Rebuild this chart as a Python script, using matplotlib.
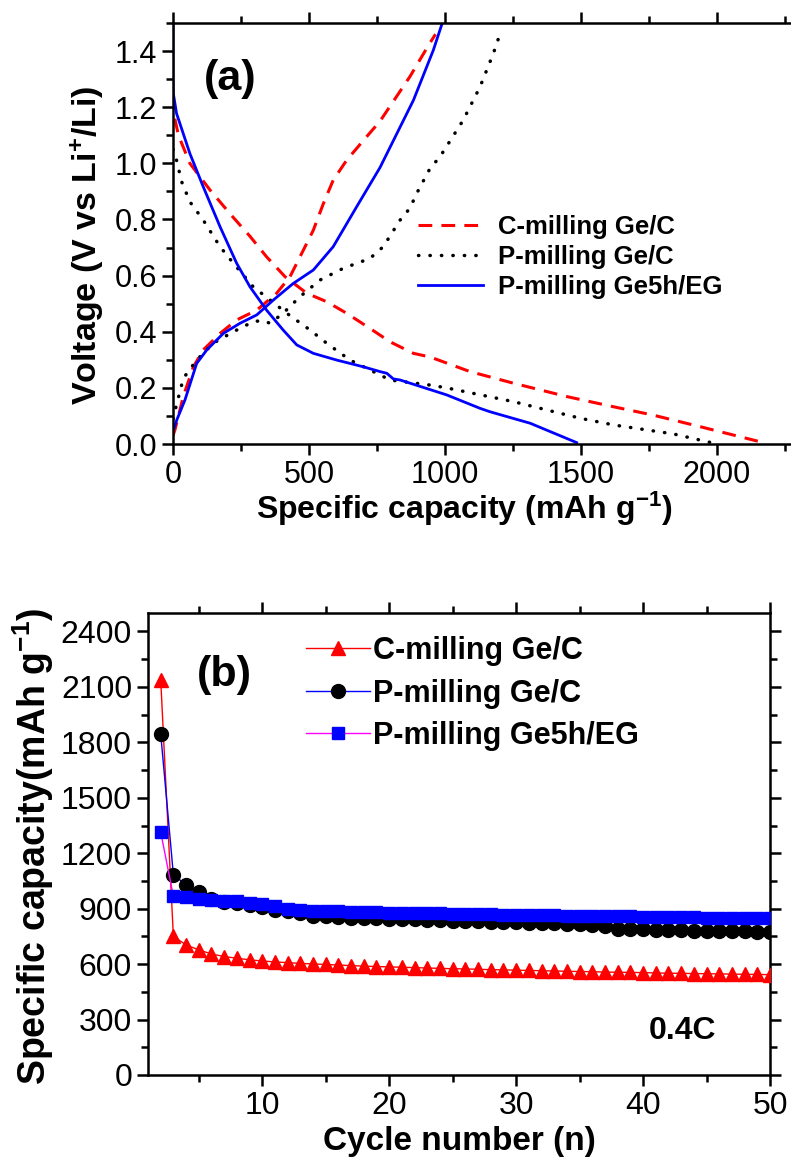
import numpy as np
import matplotlib
matplotlib.use('Agg')
import matplotlib.pyplot as plt
from matplotlib.ticker import MultipleLocator, FormatStrFormatter

plt.rcParams['font.family'] = ['Liberation Sans', 'DejaVu Sans']
plt.rcParams['mathtext.fontset'] = 'custom'
plt.rcParams['mathtext.rm'] = 'Liberation Sans'
plt.rcParams['mathtext.bf'] = 'Liberation Sans:bold'
plt.rcParams['mathtext.default'] = 'bf'

# ---- panel (a): charge / discharge profiles ----
c_dis_cap = [0, 2, 20, 62, 136, 210, 283, 344, 412, 492, 565, 638, 724, 798, 884, 945, 1092, 1250, 1448, 1618, 1765, 1937, 2150]
c_dis_v = [1.24, 1.18, 1.10, 1.0, 0.905, 0.82, 0.74, 0.667, 0.596, 0.537, 0.507, 0.466, 0.412, 0.364, 0.323, 0.31, 0.258, 0.217, 0.169, 0.133, 0.103, 0.062, 0.01]
c_chg_cap = [0, 7, 20, 38, 75, 111, 173, 234, 308, 381, 430, 467, 516, 553, 589, 639, 712, 761, 871, 939, 965]
c_chg_v = [0.03, 0.05, 0.10, 0.17, 0.275, 0.335, 0.394, 0.442, 0.477, 0.537, 0.596, 0.667, 0.762, 0.857, 0.94, 1.012, 1.095, 1.15, 1.309, 1.42, 1.46]

p_dis_cap = [0, 7, 32, 62, 111, 173, 222, 295, 357, 418, 504, 565, 651, 724, 798, 945, 1006, 1251, 1496, 1619, 1839, 1974, 1990]
p_dis_v = [1.05, 1.035, 0.934, 0.863, 0.798, 0.703, 0.644, 0.56, 0.513, 0.466, 0.406, 0.359, 0.299, 0.264, 0.228, 0.21, 0.2, 0.151, 0.092, 0.068, 0.036, 0.006, 0.0]
p_chg_cap = [0, 5, 38, 87, 148, 222, 295, 330, 357, 405, 467, 540, 626, 724, 773, 835, 871, 896, 945, 982, 1067, 1129, 1178, 1205]
p_chg_v = [0.09, 0.11, 0.234, 0.299, 0.359, 0.40, 0.436, 0.44, 0.43, 0.466, 0.525, 0.584, 0.626, 0.661, 0.703, 0.798, 0.84, 0.893, 0.982, 1.024, 1.154, 1.273, 1.392, 1.469]

eg_dis_cap = [0, 0, 1, 13, 62, 111, 173, 234, 283, 344, 405, 455, 516, 602, 700, 761, 786, 810, 835, 1006, 1129, 1165, 1313, 1484]
eg_dis_v = [1.5, 1.3, 1.25, 1.178, 1.035, 0.917, 0.774, 0.644, 0.56, 0.477, 0.406, 0.353, 0.323, 0.299, 0.275, 0.258, 0.252, 0.232, 0.228, 0.175, 0.127, 0.115, 0.074, 0.005]
eg_chg_cap = [0, 14, 44, 87, 124, 185, 246, 308, 369, 442, 516, 589, 675, 761, 884, 957, 990]
eg_chg_v = [0.044, 0.086, 0.157, 0.287, 0.335, 0.394, 0.43, 0.46, 0.513, 0.572, 0.62, 0.703, 0.845, 0.985, 1.225, 1.403, 1.5]

labels = ['C-milling Ge/C', 'P-milling Ge/C', 'P-milling Ge5h/EG']

# ---- panel (b): cycling ----
cycles = list(range(2, 51))
cap_c = [2140, 750, 704, 677, 655, 641, 632, 623, 617, 612, 608, 604, 601, 598, 595, 592, 589, 587, 585,
         583, 581, 579, 577, 575, 574, 572, 570, 569, 567, 566, 564, 563, 561, 560, 559, 557, 556, 555, 554,
         552, 551, 550, 549, 548, 547, 546, 545, 544, 543]
cap_p = [1847, 1083, 1029, 988, 952, 935, 930, 921, 908, 894, 885, 876, 863, 858, 855, 852, 850, 848, 846,
         844, 842, 840, 838, 836, 834, 832, 830, 828, 826, 824, 822, 820, 818, 816, 813, 808, 792, 790, 788,
         786, 784, 782, 781, 780, 779, 778, 777, 776, 773]
cap_eg = [1315, 966, 961, 953, 948, 944, 939, 933, 924, 912, 899, 894, 890, 888, 886, 884, 882, 880, 878,
          877, 876, 875, 874, 872, 871, 870, 869, 868, 867, 866, 865, 864, 863, 862, 861, 860, 859, 858, 857,
          856, 855, 854, 853, 852, 852, 851, 850, 849, 848]

W, H = 791, 1159
fig = plt.figure(figsize=(W / 100, H / 100), dpi=100)

ax1 = fig.add_axes([173 / W, 1 - 444 / H, 625.6 / W, 421 / H])
ax1.plot(c_dis_cap, c_dis_v, color='red', lw=2.2, dashes=(4.5, 3), label=labels[0])
ax1.plot(c_chg_cap, c_chg_v, color='red', lw=2.2, dashes=(4.5, 3))
ax1.plot(p_dis_cap, p_dis_v, color='black', lw=2.5, dashes=(0.1, 3.2), dash_capstyle='round', label=labels[1])
ax1.plot(p_chg_cap, p_chg_v, color='black', lw=2.5, dashes=(0.1, 3.2), dash_capstyle='round')
ax1.plot(eg_dis_cap, eg_dis_v, color='blue', lw=2.0, label=labels[2])
ax1.plot(eg_chg_cap, eg_chg_v, color='blue', lw=2.0)
ax1.set_xlim(0, 2300)
ax1.set_ylim(0, 1.5)
ax1.xaxis.set_major_locator(MultipleLocator(500))
ax1.xaxis.set_minor_locator(MultipleLocator(250))
ax1.yaxis.set_major_locator(MultipleLocator(0.2))
ax1.yaxis.set_minor_locator(MultipleLocator(0.1))
ax1.yaxis.set_major_formatter(FormatStrFormatter('%.1f'))
ax1.set_xlabel('Specific capacity (mAh g$^{-1}$)', fontsize=23, fontweight='bold')
ax1.set_ylabel('Voltage (V vs Li$^{+}$/Li)', fontsize=24.5, fontweight='bold')
ax1.xaxis.set_label_coords(0.465, -0.108)
ax1.yaxis.set_label_coords(-0.107, 0.473)
ax1.text(0.091, 0.868, '(a)', transform=ax1.transAxes, fontsize=31, fontweight='bold', ha='center', va='center')
ax1.legend(loc='upper left', bbox_to_anchor=(418 / W, 1 - 215 / H), bbox_transform=fig.transFigure,
           frameon=False, prop={'weight': 'bold', 'size': 18.5}, handlelength=2.53,
           handletextpad=0.58, labelspacing=0.23, borderpad=0, borderaxespad=0)

ax2 = fig.add_axes([148 / W, 1 - 1075 / H, 622 / W, 462 / H])
ax2.plot(cycles, cap_c, color='red', lw=1.0, marker='^', ms=10.5, mfc='red', mec='red', label=labels[0], zorder=3)
ax2.plot(cycles, cap_p, color='blue', lw=1.0, marker='o', ms=10, mfc='black', mec='black', label=labels[1], zorder=4)
ax2.plot(cycles, cap_eg, color='magenta', lw=1.0, marker='s', ms=9, mfc='blue', mec='blue', label=labels[2], zorder=5)
ax2.set_xlim(1, 50)
ax2.set_ylim(0, 2500)
ax2.xaxis.set_major_locator(MultipleLocator(10))
ax2.xaxis.set_minor_locator(MultipleLocator(5))
ax2.yaxis.set_major_locator(MultipleLocator(300))
ax2.yaxis.set_minor_locator(MultipleLocator(150))
ax2.set_xlabel('Cycle number (n)', fontsize=24, fontweight='bold')
ax2.set_ylabel('Specific capacity(mAh g$^{-1}$)', fontsize=27, fontweight='bold')
ax2.xaxis.set_label_coords(0.5, -0.11)
ax2.yaxis.set_label_coords(-0.148, 0.496)
ax2.text(0.122, 0.866, '(b)', transform=ax2.transAxes, fontsize=31, fontweight='bold', ha='center', va='center')
ax2.text(0.86, 0.095, '0.4C', transform=ax2.transAxes, fontsize=23, fontweight='bold', ha='center', va='center')
ax2.legend(loc='upper left', bbox_to_anchor=(306 / W, 1 - 636 / H), bbox_transform=fig.transFigure,
           frameon=False, prop={'weight': 'bold', 'size': 22}, handlelength=2.1, numpoints=1,
           handletextpad=0.08, labelspacing=0.41, borderpad=0, borderaxespad=0)

for ax in (ax1, ax2):
    for s in ax.spines.values():
        s.set_linewidth(1.8)
    ax.tick_params(which='both', direction='out', width=1.8, top=True, right=True)
    ax.tick_params(which='major', length=8)
    ax.tick_params(which='minor', length=5)
ax1.tick_params(which='both', right=False, labelsize=22)
ax2.tick_params(which='both', labelsize=23)

fig.savefig('out.png', dpi=100)
